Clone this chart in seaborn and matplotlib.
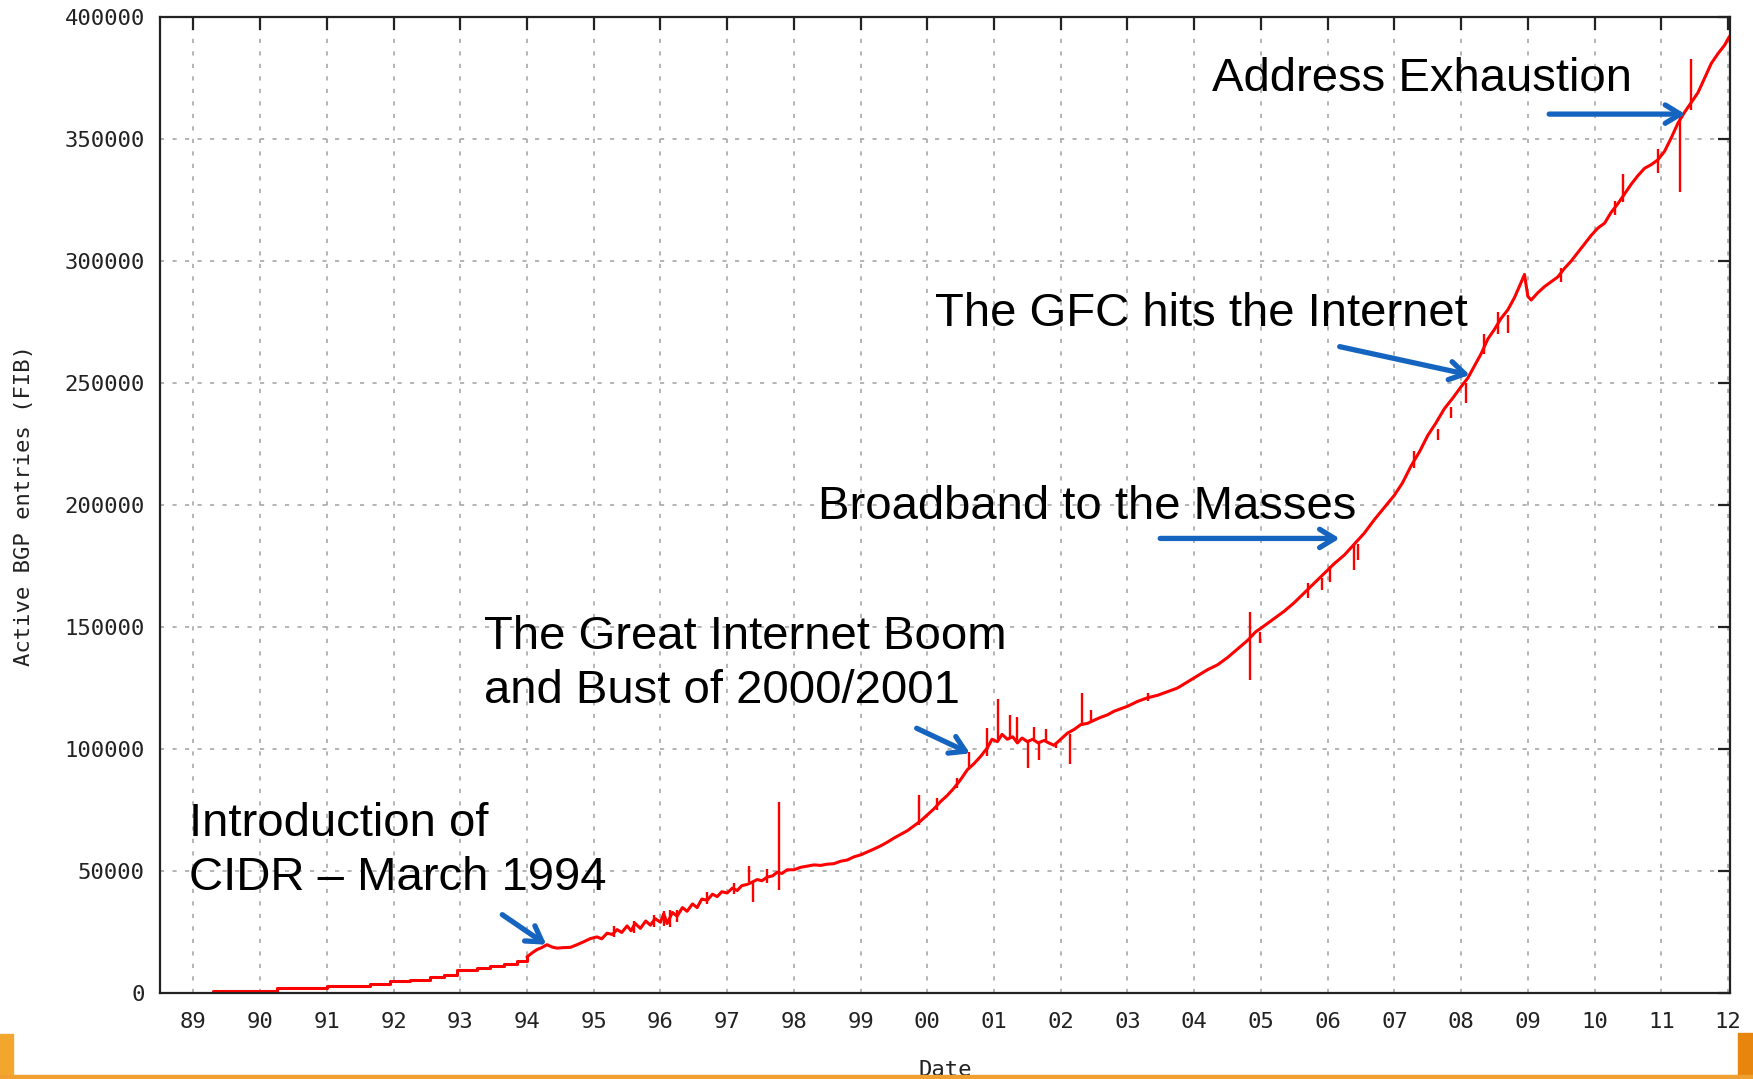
import matplotlib
matplotlib.use("Agg")
import matplotlib.pyplot as plt
import seaborn as sns
from matplotlib.patches import Rectangle

# ---------------- data ----------------
early_dates = [1989.30, 1990.25, 1991.00, 1991.65, 1991.95, 1992.25, 1992.55,
               1992.75, 1992.95, 1993.25, 1993.45, 1993.65, 1993.85, 1994.00]
early_vals = [900, 2000, 2700, 3700, 4800, 5500, 6400,
              7400, 9300, 10200, 11000, 11900, 13200, 14800]

main_dates = [
    1994.00, 1994.08, 1994.15, 1994.22, 1994.30, 1994.38, 1994.45, 1994.55, 1994.65, 1994.75,
    1994.85, 1994.95, 1995.05, 1995.12, 1995.20, 1995.28, 1995.35, 1995.42, 1995.50, 1995.56,
    1995.62, 1995.70, 1995.78, 1995.85, 1995.92, 1996.00, 1996.05, 1996.10, 1996.18, 1996.25,
    1996.33, 1996.40, 1996.48, 1996.55, 1996.62, 1996.70, 1996.78, 1996.85, 1996.92, 1997.00,
    1997.08, 1997.15, 1997.22, 1997.30, 1997.38, 1997.45, 1997.52, 1997.60, 1997.68, 1997.75,
    1997.82, 1997.90, 1998.00, 1998.10, 1998.20, 1998.30, 1998.40, 1998.50, 1998.60, 1998.70,
    1998.80, 1998.90, 1999.00, 1999.10, 1999.20, 1999.30, 1999.40, 1999.50, 1999.60, 1999.70,
    1999.80, 1999.90, 2000.00, 2000.10, 2000.20, 2000.30, 2000.40, 2000.50, 2000.60, 2000.70,
    2000.80, 2000.90, 2000.97, 2001.05, 2001.12, 2001.20, 2001.28, 2001.35, 2001.42, 2001.50,
    2001.58, 2001.66, 2001.75, 2001.82, 2001.90, 2002.00, 2002.10, 2002.20, 2002.30, 2002.40,
    2002.50, 2002.60, 2002.70, 2002.80, 2002.90, 2003.00, 2003.15, 2003.30, 2003.45, 2003.60,
    2003.75, 2003.90, 2004.05, 2004.20, 2004.35, 2004.50, 2004.65, 2004.80, 2004.92, 2005.05,
    2005.20, 2005.35, 2005.50, 2005.65, 2005.80, 2005.95, 2006.10, 2006.25, 2006.40, 2006.55,
    2006.70, 2006.85, 2007.00, 2007.12, 2007.25, 2007.38, 2007.50, 2007.62, 2007.75, 2007.88,
    2008.00, 2008.10, 2008.20, 2008.30, 2008.40, 2008.50, 2008.60, 2008.70, 2008.80, 2008.88,
    2008.95, 2009.00, 2009.05, 2009.15, 2009.25, 2009.35, 2009.45, 2009.55, 2009.65, 2009.75,
    2009.85, 2009.95, 2010.05, 2010.15, 2010.25, 2010.35, 2010.45, 2010.55, 2010.65, 2010.75,
    2010.85, 2010.95, 2011.05, 2011.15, 2011.25, 2011.35, 2011.45, 2011.55, 2011.65, 2011.75,
    2011.85, 2011.95, 2012.02]
main_vals = [
    14800, 16500, 17800, 18600, 19800, 18800, 18400, 18600, 18700, 19800,
    21000, 22300, 23000, 22200, 24500, 24000, 26000, 24800, 27500, 25500,
    28500, 26500, 29500, 27800, 30500, 29000, 32500, 28500, 33000, 31500,
    35000, 33500, 36500, 35000, 38500, 38000, 40500, 39500, 41500, 41000,
    43000, 42000, 44000, 44500, 45500, 46500, 46000, 47500, 48000, 49500,
    49000, 50500, 50500, 51500, 52000, 52500, 52300, 52800, 53000, 54000,
    54500, 55800, 56600, 57800, 59000, 60300, 61800, 63500, 65000, 66500,
    68500, 70500, 73000, 75500, 78500, 81000, 84000, 87500, 91500, 94000,
    97000, 100500, 104000, 103000, 106000, 104000, 105000, 102500, 104500, 103000,
    104000, 102500, 103500, 102500, 101500, 104000, 106500, 108000, 110000, 110500,
    111800, 113000, 114000, 115500, 116500, 117500, 119500, 121000, 122000, 123500,
    125000, 127500, 130000, 132500, 134500, 137500, 141000, 144500, 148000, 150500,
    153500, 156500, 160000, 164000, 168000, 172000, 176000, 179500, 184000, 188500,
    194000, 199000, 204000, 209000, 216000, 222000, 228500, 233500, 239500, 244000,
    248500, 252000, 257000, 262000, 268000, 272000, 276500, 280000, 285000, 290000,
    294500, 285500, 284000, 287000, 289500, 291500, 293500, 297000, 300000, 303500,
    307000, 310500, 313500, 315500, 320000, 323500, 327500, 331500, 335000, 338000,
    339500, 341500, 345000, 350500, 356500, 361000, 365000, 369000, 375000, 381000,
    385000, 388500, 392000]

spike_dates = [1995.30, 1995.60, 1995.90, 1996.05, 1996.15, 1996.25, 1996.70, 1997.10,
               1997.33, 1997.38, 1997.60, 1997.78, 1999.88, 2000.15, 2000.45, 2000.63,
               2000.89, 2001.06, 2001.24, 2001.34, 2001.51, 2001.60, 2001.68, 2001.78,
               2001.93, 2002.14, 2002.32, 2002.46, 2003.30, 2004.84, 2004.99, 2005.70,
               2005.91, 2006.04, 2006.39, 2006.46, 2007.30, 2007.65, 2007.85, 2008.08,
               2008.35, 2008.55, 2008.70, 2009.50, 2010.30, 2010.42, 2010.95, 2011.28,
               2011.44]
spike_low = [23000, 24500, 27000, 27500, 27000, 29000, 36500, 40500,
             45500, 37400, 45000, 42200, 69000, 75000, 84000, 92000,
             97000, 104000, 104000, 103500, 92100, 103500, 95500, 103000,
             100300, 93800, 109500, 111000, 119500, 128300, 143300, 162000,
             165100, 168600, 173300, 177400, 215000, 226600, 235500, 241600,
             262000, 270000, 270300, 291500, 319000, 324000, 336000, 328100,
             362000]
spike_high = [27500, 29500, 32000, 33500, 34000, 34000, 41500, 45000,
              52200, 45500, 51000, 78400, 81100, 80000, 88000, 98900,
              108500, 120500, 113900, 113200, 103500, 109100, 103000, 108000,
              103000, 106000, 122800, 116000, 123000, 156300, 148000, 168000,
              170000, 175000, 183500, 184000, 222000, 231000, 240000, 250000,
              270000, 279000, 278000, 297000, 324500, 335700, 346000, 361000,
              382800]

year_ticks = list(range(1989, 2013))
year_labels = ["89", "90", "91", "92", "93", "94", "95", "96", "97", "98", "99", "00",
               "01", "02", "03", "04", "05", "06", "07", "08", "09", "10", "11", "12"]
y_ticks = [0, 50000, 100000, 150000, 200000, 250000, 300000, 350000, 400000]

notes = ["Address Exhaustion",
         "The GFC hits the Internet",
         "Broadband to the Masses",
         "The Great Internet Boom\nand Bust of 2000/2001",
         "Introduction of\nCIDR \u2013 March 1994"]
note_pos = [(2004.26, 374600), (2000.12, 278300), (1998.36, 199100),
            (1993.36, 134700), (1988.93, 58300)]
arrow_tail = [(2009.32, 360200), (2006.18, 264900), (2003.49, 186300),
              (1999.84, 108500), (1993.63, 32100)]
arrow_tip = [(2011.36, 360200), (2008.13, 253300), (2006.18, 186300),
             (2000.64, 98200), (1994.29, 19800)]

# ---------------- figure ----------------
sns.set_theme(style="white")
plt.rcParams["font.family"] = ["DejaVu Sans Mono", "DejaVu Sans"]

fig = plt.figure(figsize=(17.53, 10.79), dpi=100)
ax = fig.add_axes([160 / 1753, 86 / 1079, 1570 / 1753, 976 / 1079])

red = "#ff0000"
sns.lineplot(x=early_dates, y=early_vals, estimator=None, sort=False, ax=ax,
             color=red, lw=2.2, drawstyle="steps-post")
sns.lineplot(x=main_dates, y=main_vals, estimator=None, sort=False, ax=ax,
             color=red, lw=2.2)
ax.vlines(spike_dates, spike_low, spike_high, color=red, lw=1.7)

ax.set_xlim(1988.5, 2012.03)
ax.set_ylim(0, 400000)
ax.set_xticks(year_ticks)
ax.set_xticklabels(year_labels)
ax.set_yticks(y_ticks)
ax.set_yticklabels([str(v) for v in y_ticks])

ax.set_axisbelow(True)
ax.grid(True, color="#a8a8a8", linestyle=(0, (2.5, 5)), lw=1.2)
for s in ax.spines.values():
    s.set_visible(True)
    s.set_color("#222222")
    s.set_linewidth(1.6)

ax.tick_params(axis="both", direction="in", length=9, width=1.6, color="#222222",
               top=True, right=True, labelsize=16, labelcolor="#222222")
ax.tick_params(axis="x", pad=14)
ax.tick_params(axis="y", pad=11)
ax.set_xlabel("Date", fontsize=16, color="#222222", labelpad=20)
ax.set_ylabel("Active BGP entries (FIB)", fontsize=16, color="#222222", labelpad=22)

for txt, (tx, ty) in zip(notes, note_pos):
    ax.text(tx, ty, txt, fontsize=34, family=["Liberation Sans", "DejaVu Sans"],
            color="black", ha="left", va="center", linespacing=1.3)
for (x0, y0), (x1, y1) in zip(arrow_tail, arrow_tip):
    ax.annotate("", xy=(x1, y1), xytext=(x0, y0),
                arrowprops=dict(arrowstyle="->,head_length=0.9,head_width=0.55",
                                color="#1565c0", lw=3.8, shrinkA=0, shrinkB=0))

# slide decoration at the bottom edge
fig.patches.append(Rectangle((0, 0), 13 / 1753, 45 / 1079, transform=fig.transFigure,
                             color="#f2a62e", zorder=5))
fig.patches.append(Rectangle((1738 / 1753, 0), 15 / 1753, 46 / 1079, transform=fig.transFigure,
                             color="#e8850c", zorder=5))
fig.patches.append(Rectangle((0, 0), 1, 4 / 1079, transform=fig.transFigure,
                             color="#f0a030", zorder=5))

fig.savefig("out.png", dpi=100)
